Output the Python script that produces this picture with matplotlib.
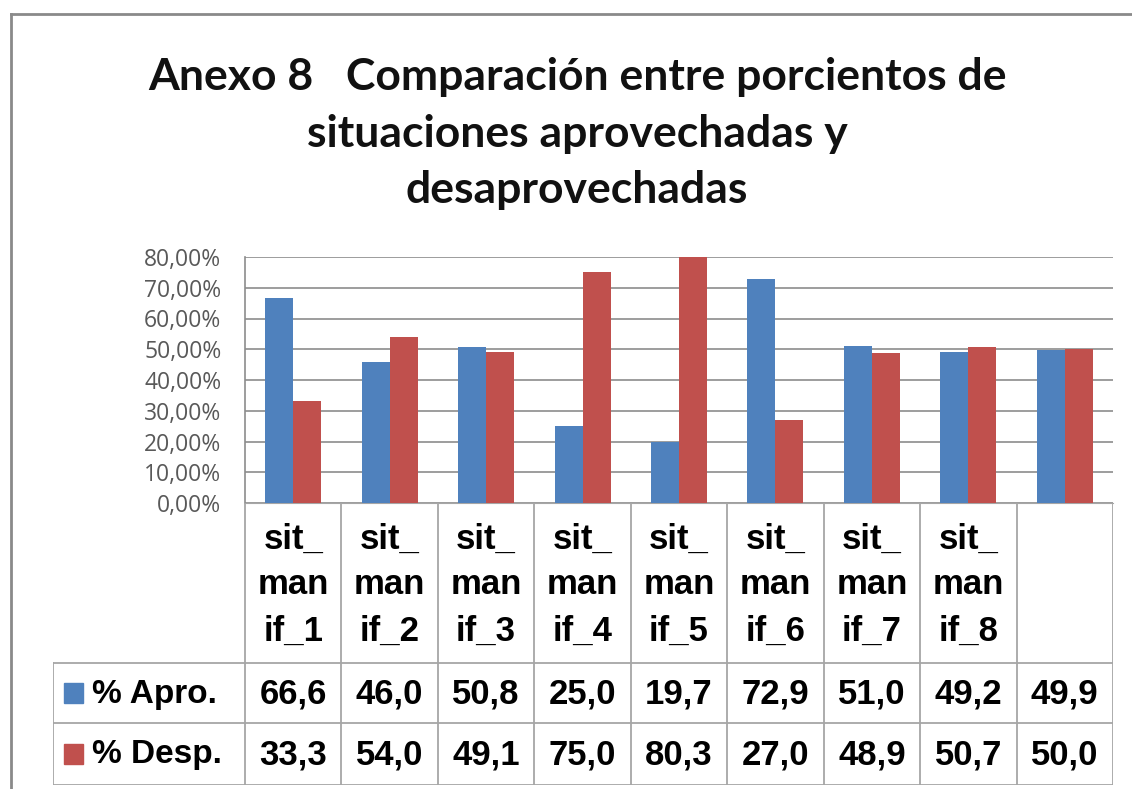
import matplotlib.pyplot as plt
import numpy as np

categories = ['sit_\nman\nif_1', 'sit_\nman\nif_2', 'sit_\nman\nif_3', 'sit_\nman\nif_4',
              'sit_\nman\nif_5', 'sit_\nman\nif_6', 'sit_\nman\nif_7', 'sit_\nman\nif_8', '']
apro = [66.6, 46.0, 50.8, 25.0, 19.7, 72.9, 51.0, 49.2, 49.9]
desp = [33.3, 54.0, 49.1, 75.0, 80.3, 27.0, 48.9, 50.7, 50.0]
series_names = ['% Apro.', '% Desp.']
yticks = [0, 10, 20, 30, 40, 50, 60, 70, 80]

BLUE = '#4F81BD'
RED = '#C0504D'
GRID = '#8C8C8C'
TABLE = '#A6A6A6'

W, H = 1132, 789
fig = plt.figure(figsize=(W / 100, H / 100), dpi=100)

def fx(px):
    return px / W

def fy(py):
    return 1 - py / H

# chart frame (left and top edges visible)
frame = fig.add_axes([0, 0, 1, 1])
frame.set_xlim(0, W)
frame.set_ylim(H, 0)
frame.axis('off')
frame.plot([11, 11], [14, H], color='#8A8A8A', lw=2)
frame.plot([11, W], [14, 14], color='#8A8A8A', lw=2)

# title
title_lines = ['Anexo 8   Comparación entre porcientos de',
               'situaciones aprovechadas y',
               'desaprovechadas']
for line, y in zip(title_lines, [77, 134, 190]):
    frame.text(577, y, line, ha='center', va='center', fontsize=32,
               family='Lato', weight='bold', color='#111111')

# plot area
px_left, px_right, px_top, px_bot = 245, 1113, 257, 503
ax = fig.add_axes([fx(px_left), fy(px_bot), fx(px_right - px_left), (px_bot - px_top) / H])
n = len(categories)
x = np.arange(n)
bw = 0.29
ax.bar(x - bw / 2, apro, bw, color=BLUE, zorder=3)
ax.bar(x + bw / 2, desp, bw, color=RED, zorder=3)
ax.set_xlim(-0.5, n - 0.5)
ax.set_ylim(0, 80)
ax.set_yticks(yticks)
ax.set_yticklabels([f'{v},00%' for v in yticks], family='Open Sans', fontsize=16.5, color='#595959')
ax.tick_params(axis='y', length=0, pad=17)
ax.set_xticks([])
ax.yaxis.grid(True, color=GRID, lw=1.2, zorder=0)
for s in ['top', 'right']:
    ax.spines[s].set_visible(False)
ax.spines['left'].set_color(GRID)
ax.spines['bottom'].set_color(TABLE)
ax.spines['left'].set_linewidth(1.2)

# data table
tb_left, tb_bot = 53, 785
row1, row2 = 663, 723
unit = (px_right - px_left) / n
tx0 = -0.5 - (px_left - tb_left) / unit
tab = fig.add_axes([fx(tb_left), fy(tb_bot), fx(px_right - tb_left), (tb_bot - px_bot) / H])
tab.set_xlim(tx0, n - 0.5)
tab.set_ylim(tb_bot, px_bot)
tab.axis('off')
lw = 1.3
for b in np.arange(n + 1) - 0.5:
    tab.plot([b, b], [px_bot, tb_bot], color=TABLE, lw=lw)
tab.plot([tx0, tx0], [row1, tb_bot], color=TABLE, lw=lw)
for yy in [row1, row2, tb_bot - 0.5]:
    tab.plot([tx0, n - 0.5], [yy, yy], color=TABLE, lw=lw)

for i, cat in enumerate(categories):
    for j, part in enumerate(cat.split('\n')):
        if part:
            tab.text(i, 539 + 46 * j, part, ha='center', va='center', fontsize=25,
                     family='Liberation Sans', weight='bold')

row_centers = [(row1 + row2) / 2, (row2 + tb_bot) / 2]
for vals, name, col, yc in zip([apro, desp], series_names, [BLUE, RED], row_centers):
    for i, v in enumerate(vals):
        tab.text(i, yc + 1, f'{v:.1f}'.replace('.', ','), ha='center', va='center',
                 fontsize=25, family='Liberation Sans', weight='bold')
    frame.add_patch(plt.Rectangle((64, yc - 10), 19, 20, color=col))
    frame.text(92, yc + 1, name, ha='left', va='center', fontsize=24,
               family='Liberation Sans', weight='bold')

fig.savefig('out.png', dpi=100)
